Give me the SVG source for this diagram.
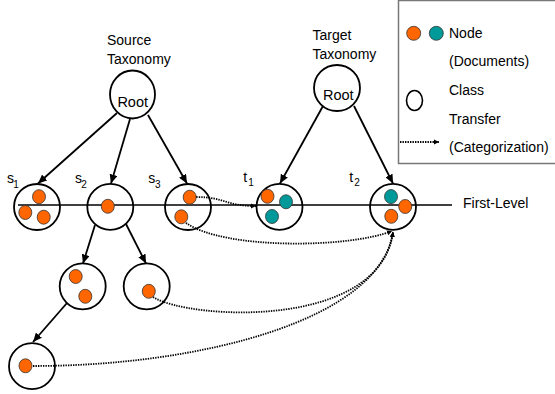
<svg xmlns="http://www.w3.org/2000/svg" width="555" height="394" viewBox="0 0 555 394">
<style>
text{font-family:"Liberation Sans",Arial,sans-serif;fill:#000}
.t{font-size:14px}
.sub{font-size:10px}
.cls{fill:none;stroke:#000;stroke-width:1.8}
.or{fill:#FF6600;stroke:#333;stroke-width:0.8}
.te{fill:#009999;stroke:#333;stroke-width:0.8}
.edge{stroke:#000;stroke-width:1.8;fill:none;marker-end:url(#ah)}
.dot{stroke:#000;stroke-width:1.8;fill:none;stroke-dasharray:1.4 1.1;marker-end:url(#dh)}
</style>
<defs>
<marker id="ah" markerUnits="userSpaceOnUse" markerWidth="10" markerHeight="8" refX="9" refY="4" orient="auto"><path d="M0,0 L9,4 L0,8 z" fill="#000"/></marker>
<marker id="dh" markerUnits="userSpaceOnUse" markerWidth="6" markerHeight="6" refX="5" refY="3" orient="auto"><path d="M0,0.5 L5,3 L0,5.5 z" fill="#000"/></marker>
</defs>
<rect width="555" height="394" fill="#fff"/>

<g id="legend">
<rect x="398.5" y="0.5" width="160" height="163" fill="#fff" stroke="#777" stroke-width="1.5"/>
<circle class="or" cx="413.7" cy="33.3" r="7"/>
<circle class="te" cx="436.3" cy="33.3" r="7"/>
<text class="t" x="449" y="38">Node</text>
<text class="t" x="449" y="66">(Documents)</text>
<ellipse cx="414.5" cy="100.5" rx="8" ry="10" fill="none" stroke="#000" stroke-width="1.6"/>
<text class="t" x="449" y="95">Class</text>
<text class="t" x="449" y="123.5">Transfer</text>
<line x1="400" y1="142" x2="439" y2="142" class="dot"/>
<text class="t" x="449" y="152">(Categorization)</text>
</g>

<g id="titles">
<text class="t" x="107" y="45">Source</text>
<text class="t" x="107" y="63.5">Taxonomy</text>
<text class="t" x="312.5" y="40">Target</text>
<text class="t" x="312.5" y="58.5">Taxonomy</text>
</g>

<g id="first-level">
<line x1="18" y1="205" x2="452" y2="205" stroke="#000" stroke-width="1.5"/>
<text class="t" x="463" y="208">First-Level</text>
</g>

<g id="connectors">
<line class="edge" x1="117" y1="113" x2="38" y2="183.5"/>
<line class="edge" x1="130" y1="119" x2="111" y2="183.5"/>
<line class="edge" x1="148" y1="115" x2="187" y2="183.5"/>
<line class="edge" x1="323" y1="106" x2="280" y2="183.5"/>
<line class="edge" x1="354" y1="106" x2="393" y2="183.5"/>
<line class="edge" x1="95" y1="225" x2="83" y2="263.5"/>
<line class="edge" x1="126" y1="224" x2="146" y2="263.5"/>
<line class="edge" x1="67" y1="303" x2="33" y2="342"/>
<path class="dot" d="M196,197 C225,197 225,206 256,206"/>
<path class="dot" d="M186,223 C225,250 350,248 392,231"/>
<path class="dot" d="M153,297 C190,320 380,330 393,232"/>
<path class="dot" d="M33,366 C200,366 380,320 393,232"/>
</g>

<g id="src-root">
<ellipse class="cls" cx="132.5" cy="94.5" rx="22.5" ry="24"/>
<text x="132.7" y="107" font-size="14.5" text-anchor="middle">Root</text>
</g>
<g id="tgt-root">
<circle class="cls" cx="337" cy="88" r="23"/>
<text x="338.3" y="100" font-size="14.5" text-anchor="middle">Root</text>
</g>

<g id="s1">
<circle class="cls" cx="37" cy="207" r="23"/>
<ellipse class="or" cx="39" cy="196.7" rx="6.5" ry="7"/>
<ellipse class="or" cx="25.3" cy="212.5" rx="6.5" ry="7"/>
<ellipse class="or" cx="43.7" cy="217.2" rx="6.5" ry="7"/>
<text class="t" x="7" y="183">s</text><text class="sub" x="13.3" y="187.5">1</text>
</g>
<g id="s2">
<circle class="cls" cx="110.3" cy="206.8" r="23"/>
<ellipse class="or" cx="107.8" cy="206.3" rx="6.5" ry="7"/>
<text class="t" x="75" y="183">s</text><text class="sub" x="81.3" y="187.5">2</text>
</g>
<g id="s3">
<circle class="cls" cx="188" cy="207" r="23"/>
<ellipse class="or" cx="189.7" cy="197.2" rx="6.5" ry="7"/>
<ellipse class="or" cx="181.3" cy="216.8" rx="6.5" ry="7"/>
<text class="t" x="148.3" y="183">s</text><text class="sub" x="155" y="187.5">3</text>
</g>
<g id="t1">
<circle class="cls" cx="279.5" cy="206.8" r="23"/>
<ellipse class="or" cx="267.5" cy="196.3" rx="6.5" ry="7"/>
<ellipse class="te" cx="286" cy="201.8" rx="6.5" ry="7"/>
<ellipse class="te" cx="272" cy="216.5" rx="6.5" ry="7"/>
<text class="t" x="243.3" y="182">t</text><text class="sub" x="248.3" y="186">1</text>
</g>
<g id="t2">
<circle class="cls" cx="393" cy="206.8" r="23"/>
<ellipse class="te" cx="391" cy="196.6" rx="6.5" ry="7"/>
<ellipse class="or" cx="405.2" cy="206.5" rx="6.5" ry="7"/>
<ellipse class="or" cx="391.3" cy="216.3" rx="6.5" ry="7"/>
<text class="t" x="349.3" y="182">t</text><text class="sub" x="354.3" y="186">2</text>
</g>
<g id="s21">
<circle class="cls" cx="82.7" cy="286.3" r="23"/>
<ellipse class="or" cx="75.7" cy="276.5" rx="6.5" ry="7"/>
<ellipse class="or" cx="85.3" cy="296.3" rx="6.5" ry="7"/>
</g>
<g id="s22">
<circle class="cls" cx="146.7" cy="286.3" r="23"/>
<ellipse class="or" cx="148.8" cy="291.3" rx="6.5" ry="7"/>
</g>
<g id="s211">
<circle class="cls" cx="32" cy="366.2" r="23"/>
<ellipse class="or" cx="25.5" cy="365.8" rx="6.5" ry="7"/>
</g>
</svg>
